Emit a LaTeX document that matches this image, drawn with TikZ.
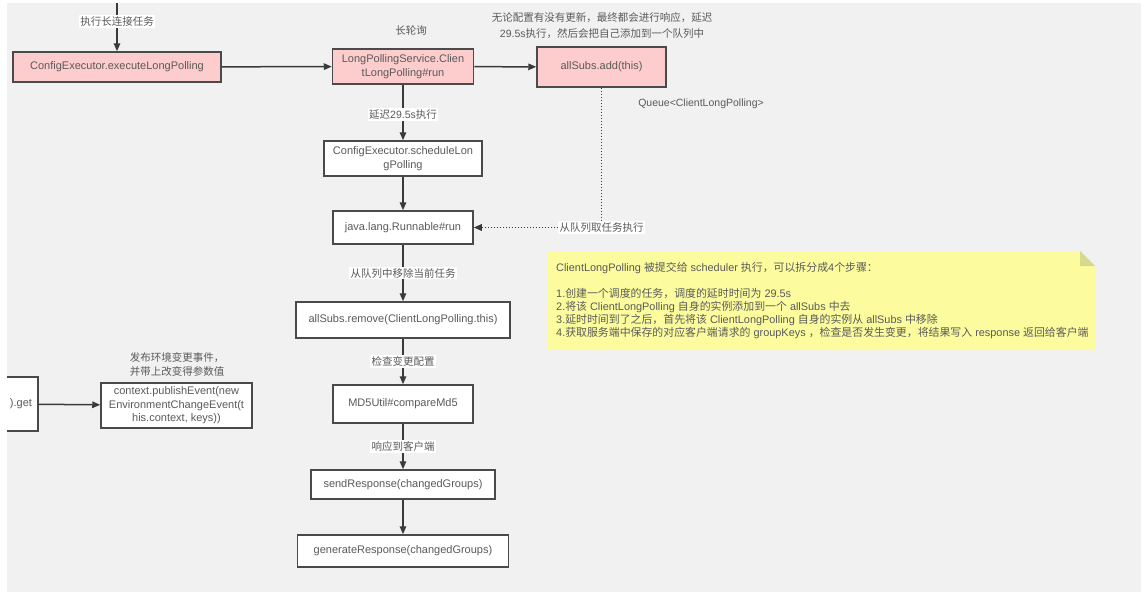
\documentclass[tikz,border=0pt]{standalone}
\usepackage{fontspec}
\setmainfont{Liberation Sans}
\newfontfamily\cjk{Noto Sans CJK SC}
\usetikzlibrary{arrows.meta}
\definecolor{bgc}{HTML}{F1F1F1}
\definecolor{pinkc}{HTML}{FDCCCC}
\definecolor{bordc}{HTML}{4A4A4A}
\definecolor{linec}{HTML}{3A3A3A}
\definecolor{txtc}{HTML}{5A5A5A}
\definecolor{notec}{HTML}{FCFC9E}
\definecolor{foldc}{HTML}{D8D88C}
\newcommand\boxfs{\fontsize{11}{13.5}\selectfont}
\newcommand\lblfs{\fontsize{10.5}{14}\selectfont}
\newcommand\topfs{\fontsize{10.5}{16}\selectfont}
\newcommand\notefs{\fontsize{10.9}{13}\selectfont}
\newcommand\zh[1]{{\cjk #1}}
\tikzset{
  box/.style={draw=bordc, line width=1.5pt, fill=white, text=txtc, font=\boxfs, align=center, inner sep=0pt},
  pinkbox/.style={box, fill=pinkc},
  arr/.style={-{Triangle[length=8pt,width=6.5pt]}, line width=1.5pt, draw=linec},
  dotarr/.style={-{Triangle[length=8pt,width=6.5pt]}, line width=1.5pt, draw=linec, dash pattern=on 1.5pt off 1.5pt},
  lbl/.style={fill=white, text=txtc, font=\lblfs, inner sep=1.5pt},
  plain/.style={text=txtc, font=\lblfs, inner sep=0pt, align=center}
}
\begin{document}
\begin{tikzpicture}[x=1pt,y=-1pt]
\useasboundingbox (0,0) rectangle (1146,605);
\fill[bgc] (7,3) rectangle (1141,592);
\begin{scope}
\clip (7,3) rectangle (1141,592);
% nodes
\node[pinkbox, minimum width=208, minimum height=30] (b1) at (117,67) {ConfigExecutor.executeLongPolling};
\node[pinkbox, minimum width=141, minimum height=35] (b2) at (403,66.5) {LongPollingService.Clien\\tLongPolling\#run};
\node[pinkbox, minimum width=129, minimum height=40] (b3) at (601.5,67) {allSubs.add(this)};
\node[box, minimum width=158, minimum height=35] (b4) at (403,158.5) {ConfigExecutor.scheduleLon\\gPolling};
\node[box, minimum width=140, minimum height=33] (b5) at (403,227.5) {java.lang.Runnable\#run};
\node[box, minimum width=214, minimum height=36] (b6) at (403,320) {allSubs.remove(ClientLongPolling.this)};
\node[box, minimum width=140, minimum height=38] (b7) at (403,404) {MD5Util\#compareMd5};
\node[box, minimum width=184, minimum height=29] (b8) at (403,484.5) {sendResponse(changedGroups)};
\node[box, minimum width=211, minimum height=32] (b9) at (403,551) {generateResponse(changedGroups)};
\node[box, minimum width=151, minimum height=45] (b10) at (176.5,405.5) {context.publishEvent(new\\EnvironmentChangeEvent(t\\his.context, keys))};
\node[box, minimum width=58, minimum height=54, text width=46, align=right, inner xsep=6pt] (b0) at (9,404) {).get};
% free texts
\node[plain] (t1) at (411,30) {\zh{长轮询}};
\node[plain, font=\topfs] (t2) at (602,26) {\zh{无论配置有没有更新，最终都会进行响应，延迟}\\29.5s\zh{执行，然后会把自己添加到一个队列中}};
\node[plain] (t3) at (701,104) {Queue<ClientLongPolling>};
\node[plain] (t4) at (177,364) {\zh{发布环境变更事件，}\\\zh{并带上改变得参数值}};
% connectors
\coordinate (top) at (117,0);
\draw[arr] (top) -- node[lbl,pos=0.42]{\zh{执行长连接任务}} (b1);
\draw[arr] (b1) -- (b2);
\draw[arr] (b2) -- (b3);
\draw[arr] (b2) -- node[lbl,pos=0.53]{\zh{延迟}29.5s\zh{执行}} (b4);
\draw[arr] (b4) -- (b5);
\draw[arr] (b5) -- node[lbl]{\zh{从队列中移除当前任务}} (b6);
\draw[arr] (b6) -- node[lbl]{\zh{检查变更配置}} (b7);
\draw[arr] (b7) -- node[lbl]{\zh{响应到客户端}} (b8);
\draw[arr] (b8) -- (b9);
\draw[arr] (b0) -- (b10);
\coordinate (corner) at (b3.south |- b5.east);
\draw[dotarr] (b3.south) -- (corner) -- (b5.east);
\node[lbl] (t5) at (corner) {\zh{从队列取任务执行}};
% note
\fill[notec] (548,251) -- (1080,251) -- (1095,266) -- (1095,350) -- (548,350) -- cycle;
\fill[foldc] (1080,251) -- (1095,266) -- (1080,266) -- cycle;
\node[text=txtc, font=\notefs, anchor=north west, align=left, inner sep=0pt] (note) at (556,262) {%
ClientLongPolling \zh{被提交给} scheduler \zh{执行，可以拆分成}4\zh{个步骤：}\\[13pt]
1.\zh{创建一个调度的任务，调度的延时时间为} 29.5s\\
2.\zh{将该} ClientLongPolling \zh{自身的实例添加到一个} allSubs \zh{中去}\\
3.\zh{延时时间到了之后，首先将该} ClientLongPolling \zh{自身的实例从} allSubs \zh{中移除}\\
4.\zh{获取服务端中保存的对应客户端请求的} groupKeys \zh{，检查是否发生变更，将结果写入} response \zh{返回给客户端}};
\end{scope}
\end{tikzpicture}
\end{document}
